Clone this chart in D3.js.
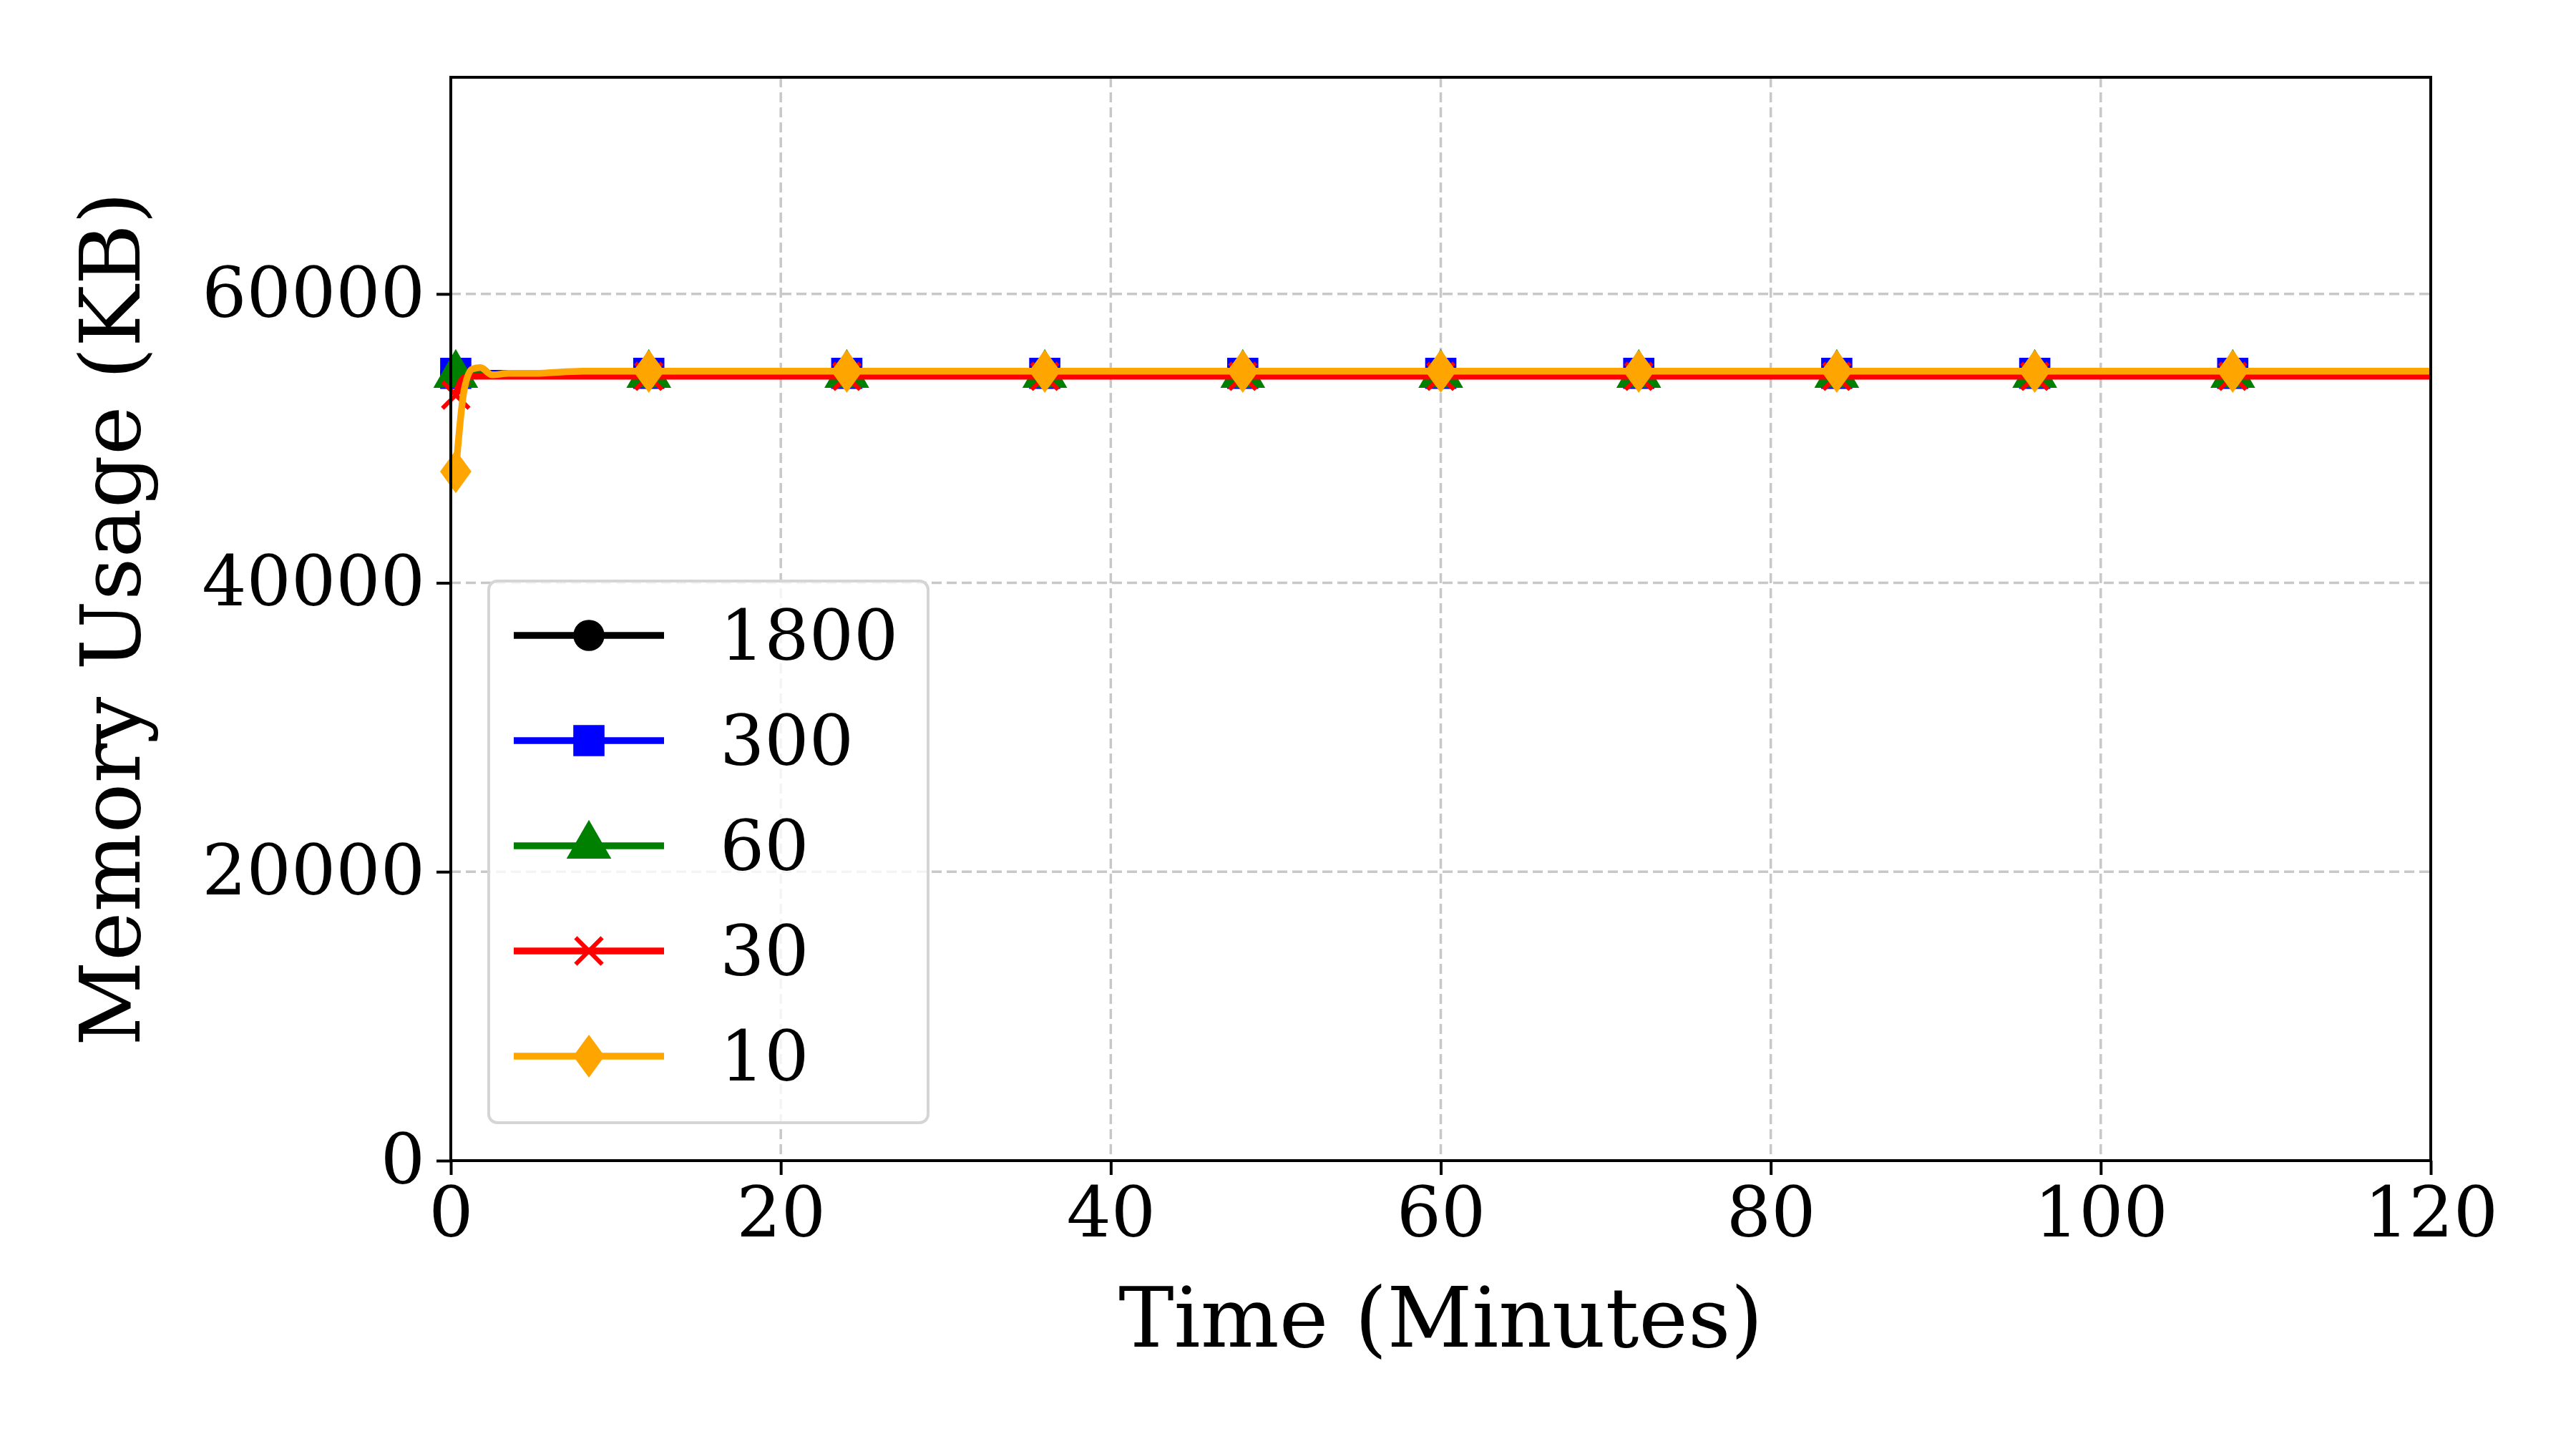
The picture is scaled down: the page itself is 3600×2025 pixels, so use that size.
<!DOCTYPE html>
<html><head><meta charset="utf-8">
<script src="https://cdn.jsdelivr.net/npm/d3@7"></script>
<style>body{margin:0;background:#fff}text{font-family:"DejaVu Serif",serif}</style>
</head><body><div class="chart"></div>
<script>
// data
var times = [0.3, 0.8, 1.3, 1.8, 2.5, 3.5, 5, 8, 12, 24, 36, 48, 60, 72, 84, 96, 108, 120];
var markerTimes = [0.3, 12, 24, 36, 48, 60, 72, 84, 96, 108];
var names = ["1800", "300", "60", "30", "10"];
var colors = ["black", "blue", "green", "red", "orange"];
var shapes = ["circle", "square", "triangle", "cross", "diamond"];
var v1800 = [54500, 54500, 54500, 54500, 54500, 54500, 54500, 54500, 54500, 54500, 54500, 54500, 54500, 54500, 54500, 54500, 54500, 54500];
var v300  = [54500, 54500, 54500, 54500, 54500, 54500, 54500, 54500, 54500, 54500, 54500, 54500, 54500, 54500, 54500, 54500, 54500, 54500];
var v60   = [54400, 54400, 54400, 54400, 54400, 54400, 54400, 54400, 54400, 54400, 54400, 54400, 54400, 54400, 54400, 54400, 54400, 54400];
var v30   = [53000, 54200, 54300, 54300, 54300, 54300, 54300, 54300, 54300, 54300, 54300, 54300, 54300, 54300, 54300, 54300, 54300, 54300];
var v10   = [47700, 53300, 54800, 54900, 54400, 54500, 54500, 54650, 54650, 54650, 54650, 54650, 54650, 54650, 54650, 54650, 54650, 54650];
var seriesValues = [v1800, v300, v60, v30, v10];
var xTicks = [0, 20, 40, 60, 80, 100, 120];
var yTicks = [0, 20000, 40000, 60000];

var W = 3600, H = 2025;
var margin = {top: 108, right: 203, bottom: 403, left: 630},
    width = W - margin.left - margin.right,
    height = H - margin.top - margin.bottom;

var svg = d3.select(".chart").append("svg")
    .attr("width", W).attr("height", H)
  .append("g")
    .attr("transform", "translate(" + margin.left + "," + margin.top + ")");

var x = d3.scaleLinear().domain([0, 120]).range([0, width]);
var y = d3.scaleLinear().domain([0, 75000]).range([height, 0]);

// grid
svg.append("g").selectAll("line").data(xTicks.slice(1, -1)).join("line")
  .attr("x1", d => x(d)).attr("x2", d => x(d)).attr("y1", 0).attr("y2", height)
  .attr("stroke", "#c8c8c8").attr("stroke-width", 3.5).attr("stroke-dasharray", "14,7");
svg.append("g").selectAll("line").data(yTicks.slice(1)).join("line")
  .attr("x1", 0).attr("x2", width).attr("y1", d => y(d)).attr("y2", d => y(d))
  .attr("stroke", "#c8c8c8").attr("stroke-width", 3.5).attr("stroke-dasharray", "14,7");

svg.append("clipPath").attr("id", "clip").append("rect")
  .attr("x", -30).attr("width", width + 30).attr("height", height);

var sym = {
  circle: d3.symbol().type(d3.symbolCircle).size(1500),
  square: d3.symbol().type(d3.symbolSquare).size(1900),
  triangle: d3.symbol().type(d3.symbolTriangle).size(1700),
  cross: d3.symbol().type(d3.symbolX).size(900),
  diamond: d3.symbol().type(d3.symbolSquare).size(1500)
};
function marker(sel, shape, color) {
  var p = sel.append("path").attr("d", sym[shape]()).attr("fill", color);
  if (shape === "cross") p.attr("fill", "none").attr("stroke", color).attr("stroke-width", 6);
  if (shape === "diamond") p.attr("transform", "scale(0.8,1.1) rotate(45)");
  return p;
}

var line = d3.line().curve(d3.curveMonotoneX).x(d => x(d[0])).y(d => y(d[1]));
var plot = svg.append("g").attr("clip-path", "url(#clip)");
seriesValues.forEach(function(vals, i) {
  var pts = times.map((t, j) => [t, vals[j]]);
  plot.append("path").datum(pts).attr("d", line)
    .attr("fill", "none").attr("stroke", colors[i]).attr("stroke-width", 9.5)
    .attr("stroke-linejoin", "round");
  markerTimes.forEach(function(t) {
    var j = times.indexOf(t);
    var g = plot.append("g").attr("transform", "translate(" + x(t) + "," + y(vals[j]) + ")");
    marker(g, shapes[i], colors[i]);
  });
});

// axes
var xaxis = svg.append("g").attr("transform", "translate(0," + height + ")")
  .call(d3.axisBottom(x).tickValues(xTicks).tickFormat(d3.format("d")).tickSize(20).tickPadding(16));
var yaxis = svg.append("g")
  .call(d3.axisLeft(y).tickValues(yTicks).tickFormat(d3.format("d")).tickSize(20).tickPadding(16));
[xaxis, yaxis].forEach(function(a) {
  a.select(".domain").remove();
  a.selectAll("line").attr("stroke-width", 4);
  a.selectAll("text").style("font-size", "98px").attr("fill", "#000");
});
svg.append("rect").attr("width", width).attr("height", height)
  .attr("fill", "none").attr("stroke", "#000").attr("stroke-width", 4);

svg.append("text").attr("x", width / 2).attr("y", height + 260)
  .attr("text-anchor", "middle").style("font-size", "116px").text("Time (Minutes)");
svg.append("text").attr("transform", "translate(" + (-435) + "," + (height / 2) + ") rotate(-90)")
  .attr("text-anchor", "middle").style("font-size", "116px").text("Memory Usage (KB)");

// legend
var lg = svg.append("g").attr("transform", "translate(" + (683 - margin.left) + "," + (812 - margin.top) + ")");
lg.append("rect").attr("width", 614).attr("height", 757).attr("rx", 12)
  .attr("fill", "#fff").attr("fill-opacity", 0.8).attr("stroke", "#d5d5d5").attr("stroke-width", 4);
names.forEach(function(n, i) {
  var yy = 76 + i * 147;
  lg.append("line").attr("x1", 35).attr("x2", 245).attr("y1", yy).attr("y2", yy)
    .attr("stroke", colors[i]).attr("stroke-width", 9.5);
  var g = lg.append("g").attr("transform", "translate(140," + yy + ")");
  marker(g, shapes[i], colors[i]);
  lg.append("text").attr("x", 323).attr("y", yy).attr("dy", "0.35em")
    .style("font-size", "98px").text(n);
});
</script></body></html>
